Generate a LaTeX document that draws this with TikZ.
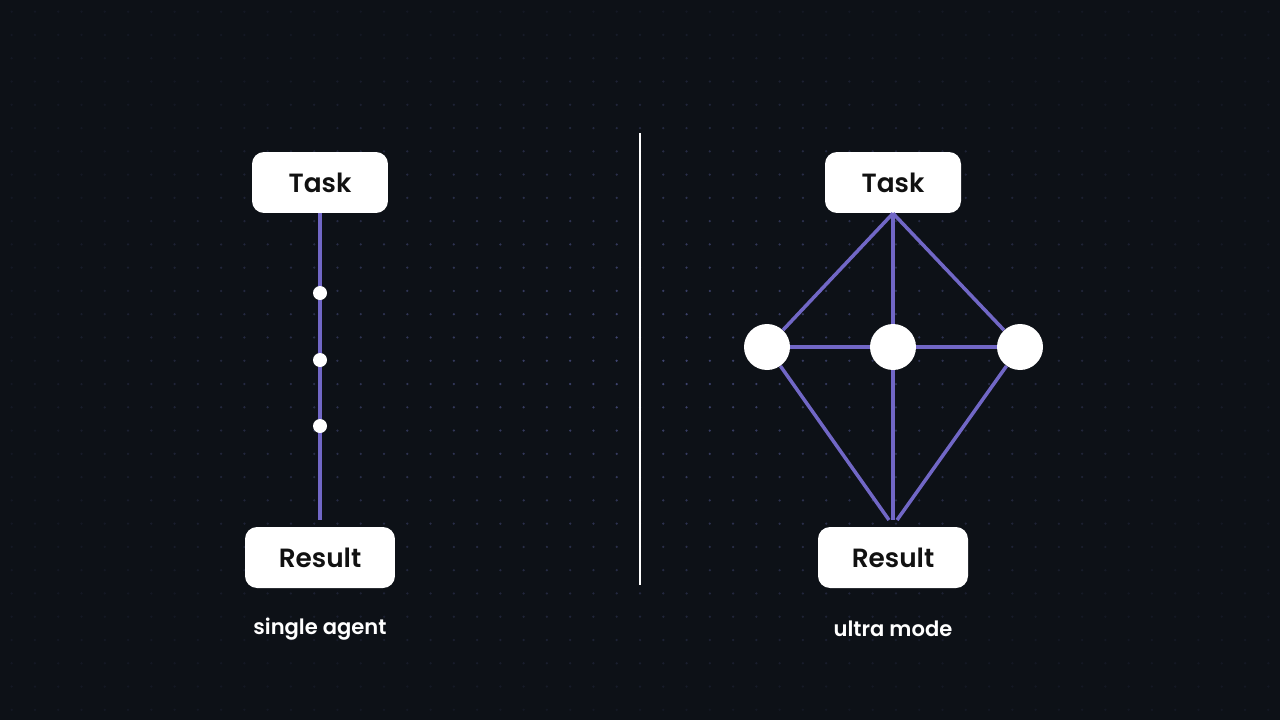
\documentclass[tikz,border=0pt]{standalone}
\usepackage{fontspec}
\setmainfont{Poppins}
\newfontfamily\semibold{Poppins SemiBold}
\usetikzlibrary{positioning}
\usetikzlibrary{calc}

\definecolor{bgdark}{HTML}{0D1117}
\definecolor{edgepurple}{HTML}{7167C6}
\definecolor{griddot}{HTML}{4C5288}
\definecolor{boxtext}{HTML}{111111}

\tikzset{
  box/.style={fill=white, rounded corners=0.24cm, minimum height=1.22cm, inner sep=0pt,
    text=boxtext, font=\fontsize{15}{18}\selectfont\semibold},
  edge/.style={draw=edgepurple, line width=2pt},
  agentdot/.style={circle, fill=white, minimum size=0.28cm, inner sep=0pt},
  bigdot/.style={circle, fill=white, minimum size=0.92cm, inner sep=0pt},
  caption/.style={text=white, font=\fontsize{12}{14}\selectfont\semibold}
}

\begin{document}
\begin{tikzpicture}[x=0.02cm, y=-0.02cm]
			% Background and dot grid
			\fill[bgdark] (0,0) rectangle (1280,720);
			\useasboundingbox (0,0) rectangle (1280,720);
			\foreach \i in {0,...,54}
			\foreach \j in {0,...,30} {
				\pgfmathsetmacro{\px}{11.7+23.27*\i}
				\pgfmathsetmacro{\py}{11.7+23.27*\j}
				\pgfmathsetmacro{\op}{max(0.12,0.85-0.75*veclen((\px-640)/640,(\py-360)/360))}
				\fill[griddot, opacity=\op] (\px,\py) circle (0.025cm);
			}
			
			% Define the nodes of the single agent
			\node[box, minimum width=2.72cm] (ltask) at (320,182.5) {Task};
			\node[box, minimum width=3.0cm] (lresult) at (320,557.5) {Result};
			\coordinate (lend) at (320,520);
			
			% Define the nodes of ultra mode
			\node[box, minimum width=2.72cm] (rtask) at (893,182.5) {Task};
			\node[box, minimum width=3.0cm] (rresult) at (893,557.5) {Result};
			\node[bigdot] (ra) at (767,347) {};
			\node[bigdot] (rb) at (893,347) {};
			\node[bigdot] (rc) at (1020,347) {};
			\coordinate (rendA) at (889,520);
			\coordinate (rendB) at (893,520);
			\coordinate (rendC) at (897,520);
			
			% Draw the lines
			\draw[edge] (ltask.south) -- (lend);
			\foreach \point/\y in {la/293, lb/360, lc/426}
			\node[agentdot] (\point) at (320,\y) {};
			
			\foreach \point in {ra, rb, rc}
			\draw[edge] (rtask.south) -- (\point);
			\draw[edge] (ra) -- (rb) -- (rc);
			\draw[edge] (ra) -- (rendA);
			\draw[edge] (rb) -- (rendB);
			\draw[edge] (rc) -- (rendC);
			
			% Divider
			\coordinate (divtop) at (640,133);
			\coordinate (divbot) at (640,585);
			\draw[white, line width=1.1pt] (divtop) -- (divbot);
			
			\node[caption] (lcap) at (320,629) {single agent};
			\node[caption] (rcap) at (893,629) {ultra mode};
            \end{tikzpicture}
\end{document}
